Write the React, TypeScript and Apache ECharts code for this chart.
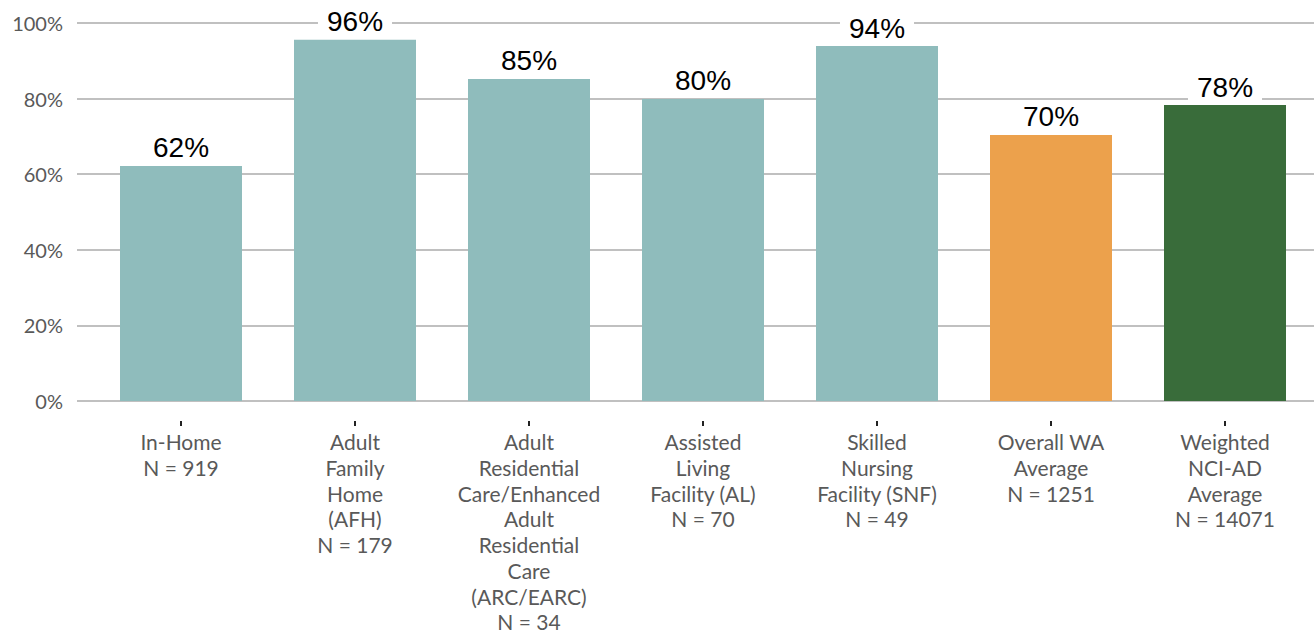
import React, { useEffect, useRef } from "react";
import * as echarts from "echarts";

const categories = [
  "In-Home\nN = 919",
  "Adult\nFamily\nHome\n(AFH)\nN = 179",
  "Adult\nResidential\nCare/Enhanced\nAdult\nResidential\nCare\n(ARC/EARC)\nN = 34",
  "Assisted\nLiving\nFacility (AL)\nN = 70",
  "Skilled\nNursing\nFacility (SNF)\nN = 49",
  "Overall WA\nAverage\nN = 1251",
  "Weighted\nNCI-AD\nAverage\nN = 14071",
];
const values = [62.2, 95.6, 85.2, 79.9, 93.9, 70.4, 78.3];
const barColors = ["#8FBCBC", "#8FBCBC", "#8FBCBC", "#8FBCBC", "#8FBCBC", "#ECA14C", "#396C3A"];
const yTicks = [0, 20, 40, 60, 80, 100];

const App: React.FC = () => {
  const ref = useRef<HTMLDivElement>(null);
  useEffect(() => {
    if (!ref.current) return;
    const chart = echarts.init(ref.current, null, { renderer: "svg" });
    const font = "Lato";
    chart.setOption({
      animation: false,
      backgroundColor: "#ffffff",
      grid: [
        { left: 77, right: 0, top: 23, bottom: 234 },
        { left: 94, right: 2, top: 23, bottom: 234 },
        { left: 94, right: 2, top: 23, bottom: 214 },
      ],
      xAxis: [
        { type: "category", gridIndex: 0, data: categories, show: false },
        { type: "category", gridIndex: 1, data: categories, show: false },
        {
          type: "category",
          gridIndex: 2,
          data: categories,
          axisLine: { show: false },
          axisTick: {
            show: true,
            alignWithLabel: true,
            length: 5,
            lineStyle: { color: "#222", width: 2 },
          },
          axisLabel: {
            interval: 0,
            margin: 8,
            color: "#595959",
            fontFamily: font,
            fontSize: 21,
            lineHeight: 25.7,
            align: "center",
          },
        },
      ],
      yAxis: [
        {
          type: "value",
          gridIndex: 0,
          min: 0,
          max: 100,
          interval: 20,
          axisLine: { show: false },
          axisTick: { show: false },
          splitLine: { lineStyle: { color: "#C0C0C0", width: 2 } },
          axisLabel: {
            margin: 14,
            color: "#595959",
            fontFamily: font,
            fontSize: 20,
            formatter: (v: number) => (yTicks.includes(v) ? v + "%" : ""),
          },
        },
        {
          type: "value",
          gridIndex: 1,
          min: 0,
          max: 100,
          interval: 20,
          show: false,
          splitLine: { show: false },
        },
        {
          type: "value",
          gridIndex: 2,
          min: 0,
          max: 100,
          interval: 20,
          show: false,
          splitLine: { show: false },
        },
      ],
      series: [
        {
          type: "bar",
          xAxisIndex: 1,
          yAxisIndex: 1,
          barWidth: 122,
          data: values.map((v, i) => ({ value: v, itemStyle: { color: barColors[i] } })),
          label: {
            show: true,
            position: "top",
            distance: 3,
            formatter: (p: any) => Math.round(p.value) + "%",
            color: "#000",
            fontFamily: "Liberation Sans",
            fontSize: 28,
            backgroundColor: "#ffffff",
            padding: [1, 9, 1, 9],
          },
        },
      ],
    });
    return () => chart.dispose();
  }, []);
  return (
    <div
      ref={ref}
      style={{ position: "fixed", left: 0, top: 0, width: 1314, height: 635 }}
    />
  );
};

export default App;
